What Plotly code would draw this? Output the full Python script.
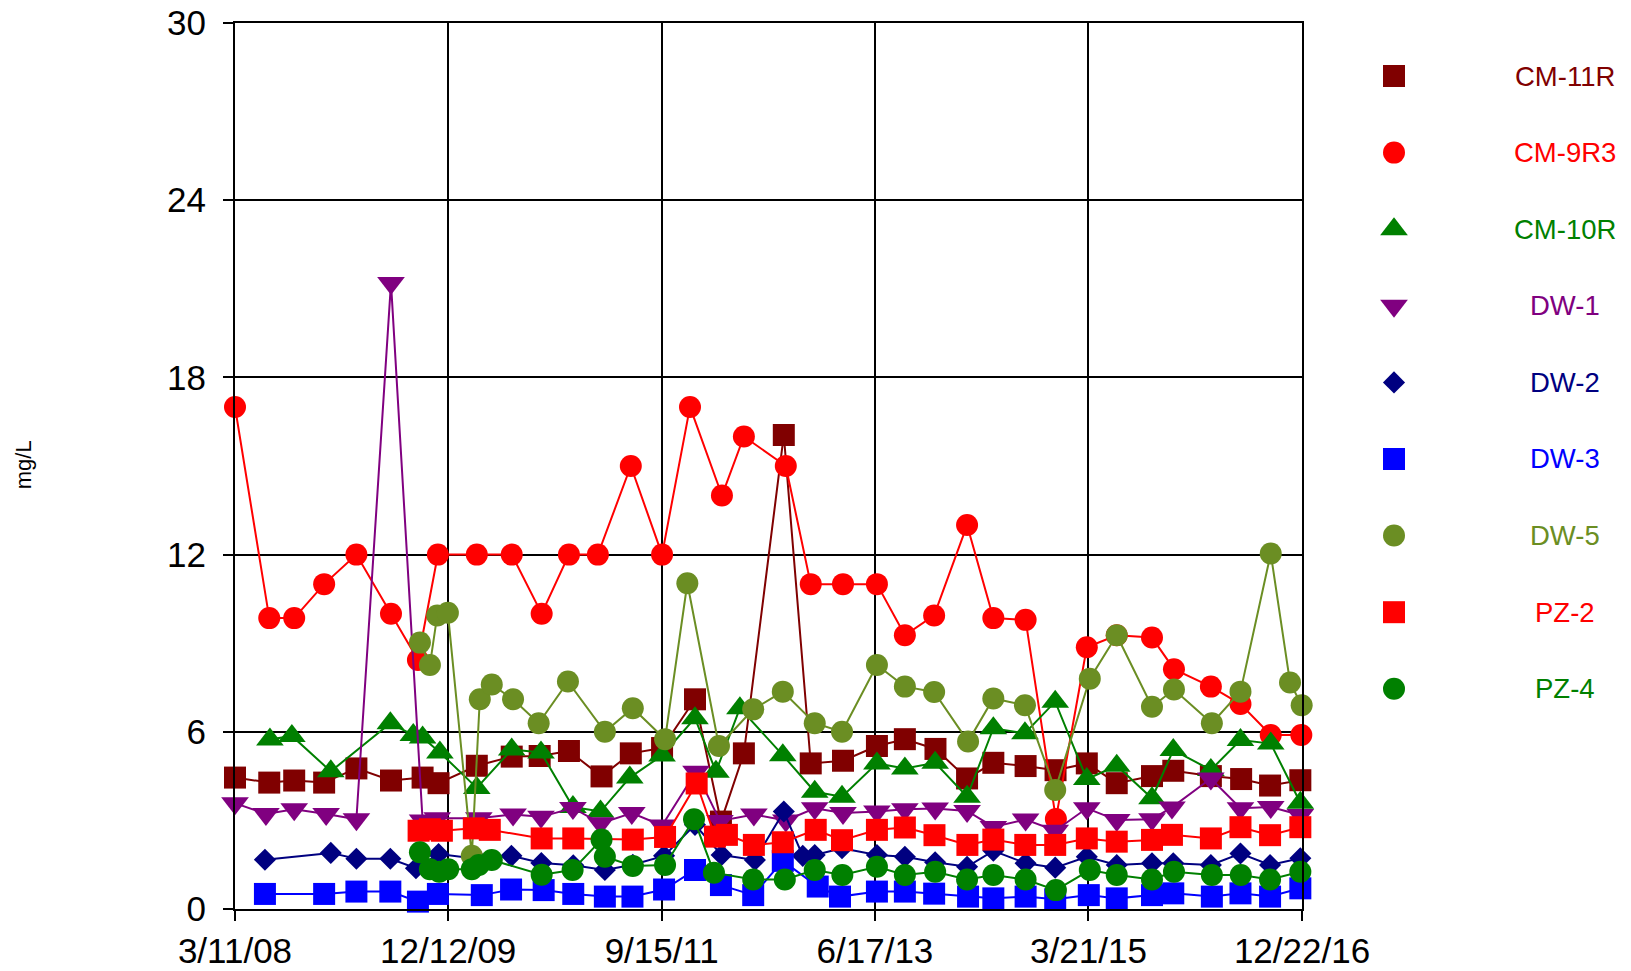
import plotly.graph_objects as go

# ---------------- data ----------------
cm11r_dates = ["2008-03-11","2008-06-22","2008-09-05","2008-12-04","2009-03-11","2009-06-23","2009-09-26","2009-11-13",
               "2010-03-08","2010-06-21","2010-09-13","2010-12-10","2011-03-18","2011-06-14","2011-09-16","2011-12-24",
               "2012-03-11","2012-05-19","2012-09-16","2012-12-06","2013-03-13","2013-06-23","2013-09-15","2013-12-16",
               "2014-03-21","2014-06-08","2014-09-13","2014-12-12","2015-03-16","2015-06-14","2015-09-28","2015-12-01",
               "2016-03-23","2016-06-22","2016-09-17","2016-12-17"]
cm11r_vals = [4.45,4.28,4.35,4.28,4.76,4.35,4.45,4.26,
              4.85,5.16,5.18,5.35,4.49,5.27,5.45,7.1,
              2.96,5.27,16.05,4.93,5.02,5.52,5.75,5.42,
              4.42,4.95,4.84,4.7,4.93,4.26,4.5,4.68,
              4.5,4.4,4.18,4.36]

cm9r3_dates = ["2008-03-11","2008-06-22","2008-09-05","2008-12-04","2009-03-11","2009-06-23","2009-09-12","2009-11-11",
               "2010-03-08","2010-06-21","2010-09-19","2010-12-10","2011-03-07","2011-06-14","2011-09-16","2011-12-09",
               "2012-03-14","2012-05-19","2012-09-22","2012-12-06","2013-03-13","2013-06-23","2013-09-15","2013-12-12",
               "2014-03-21","2014-06-08","2014-09-13","2014-12-13","2015-03-16","2015-06-14","2015-09-28","2015-12-03",
               "2016-03-23","2016-06-20","2016-09-19","2016-12-20"]
cm9r3_vals = [17.0,9.85,9.85,11.0,12.0,10.0,8.43,12.0,
              12.0,12.0,10.0,12.0,12.0,15.0,12.0,17.0,
              14.0,16.0,15.0,11.0,11.0,11.0,9.27,9.94,
              13.0,9.85,9.79,3.05,8.86,9.27,9.19,8.12,
              7.53,6.94,5.89,5.89]

cm10r_dates = ["2008-06-24","2008-08-29","2008-12-24","2009-06-21","2009-08-29","2009-09-26","2009-11-17",
               "2010-03-08","2010-06-21","2010-09-17","2010-12-22","2011-03-15","2011-06-11","2011-09-16","2011-12-24",
               "2012-02-25","2012-05-07","2012-09-13","2012-12-18","2013-03-10","2013-06-23","2013-09-15","2013-12-15",
               "2014-03-21","2014-06-08","2014-09-11","2014-12-11","2015-03-16","2015-06-14","2015-09-28","2015-12-01",
               "2016-03-23","2016-06-20","2016-09-19","2016-12-17"]
cm10r_vals = [5.74,5.86,4.66,6.29,5.89,5.81,5.3,
              4.1,5.4,5.3,3.45,3.3,4.45,5.2,6.46,
              4.65,6.8,5.21,3.97,3.8,4.93,4.76,4.95,
              3.8,6.12,5.95,7.02,4.4,4.85,3.75,5.38,
              4.71,5.72,5.6,3.6]

dw1_dates = ["2008-03-11","2008-06-12","2008-09-05","2008-12-10","2009-03-11","2009-06-23","2009-09-26","2009-11-09",
             "2010-03-14","2010-06-25","2010-09-17","2010-12-22","2011-03-15","2011-06-17","2011-09-16","2011-12-27",
             "2012-03-08","2012-06-18","2012-09-22","2012-12-18","2013-03-13","2013-06-23","2013-09-15","2013-12-15",
             "2014-03-21","2014-06-08","2014-09-13","2014-12-11","2015-03-16","2015-06-14","2015-09-28","2015-11-27",
             "2016-03-23","2016-06-20","2016-09-19","2016-12-17"]
dw1_vals = [3.58,3.22,3.38,3.22,3.04,21.2,3.0,3.07,
            3.07,3.2,3.12,3.42,2.9,3.25,2.83,4.65,
            2.98,3.2,3.0,3.41,3.25,3.3,3.38,3.4,
            3.32,2.78,3.03,2.65,3.41,3.01,3.04,3.44,
            4.42,3.41,3.45,3.18]

dw2_dates = ["2008-06-09","2008-12-24","2009-03-11","2009-06-21","2009-09-06","2009-11-13",
             "2010-03-08","2010-06-20","2010-09-18","2010-12-23","2011-03-28","2011-06-20","2011-09-22","2011-12-24",
             "2012-03-13","2012-06-21","2012-09-16","2012-11-12","2012-12-18","2013-03-10","2013-06-23","2013-09-15",
             "2013-12-15","2014-03-21","2014-06-08","2014-09-13","2014-12-11","2015-03-16","2015-06-14","2015-09-28",
             "2015-12-01","2016-03-23","2016-06-20","2016-09-17","2016-12-17"]
dw2_vals = [1.67,1.9,1.7,1.7,1.38,1.86,
            1.7,1.8,1.56,1.48,1.32,1.5,1.8,2.85,
            1.83,1.66,3.3,1.8,1.83,2.06,1.83,1.77,
            1.58,1.43,1.97,1.55,1.4,1.77,1.49,1.55,
            1.55,1.49,1.88,1.49,1.72]

dw3_dates = ["2008-06-09","2008-12-04","2009-03-11","2009-06-21","2009-09-12","2009-11-11",
             "2010-03-23","2010-06-19","2010-09-25","2010-12-23","2011-03-28","2011-06-19","2011-09-22","2011-12-24",
             "2012-03-11","2012-06-16","2012-09-13","2012-12-27","2013-03-04","2013-06-23","2013-09-15","2013-12-12",
             "2014-03-24","2014-06-08","2014-09-13","2014-12-11","2015-03-22","2015-06-14","2015-09-28","2015-12-01",
             "2016-03-26","2016-06-20","2016-09-17","2016-12-17"]
dw3_vals = [0.51,0.51,0.59,0.59,0.25,0.51,
            0.47,0.66,0.64,0.51,0.42,0.42,0.66,1.32,
            0.81,0.47,1.63,0.76,0.42,0.59,0.59,0.52,
            0.42,0.36,0.42,0.33,0.47,0.36,0.47,0.53,
            0.42,0.53,0.42,0.7]

dw5_dates = ["2009-09-18","2009-10-18","2009-11-09","2009-12-11","2010-02-21","2010-03-17","2010-04-22","2010-06-25",
             "2010-09-10","2010-12-07","2011-03-28","2011-06-20","2011-09-25","2011-12-01","2012-03-05","2012-06-16",
             "2012-09-13","2012-12-18","2013-03-10","2013-06-23","2013-09-15","2013-12-12","2014-03-24","2014-06-08",
             "2014-09-11","2014-12-11","2015-03-25","2015-06-14","2015-09-28","2015-12-03","2016-03-26","2016-06-20",
             "2016-09-19","2016-11-16","2016-12-21"]
dw5_vals = [9.02,8.26,9.94,10.03,1.8,7.1,7.6,7.1,
            6.29,7.7,6.0,6.8,5.75,11.03,5.52,6.76,
            7.36,6.29,6.0,8.26,7.53,7.35,5.67,7.13,
            6.9,4.03,7.8,9.27,6.85,7.43,6.29,7.36,
            12.04,7.67,6.9]

pz2_dates = ["2009-09-14","2009-10-18","2009-11-23","2010-02-27","2010-04-16","2010-09-19","2010-12-23",
             "2011-06-20","2011-09-25","2011-12-29","2012-02-22","2012-03-29","2012-06-18","2012-09-13","2012-12-21",
             "2013-03-10","2013-06-23","2013-09-15","2013-12-13","2014-03-22","2014-06-08","2014-09-12","2014-12-11",
             "2015-03-16","2015-06-14","2015-09-28","2015-11-27","2016-03-23","2016-06-20","2016-09-17","2016-12-17"]
pz2_vals = [2.65,2.7,2.65,2.73,2.68,2.39,2.39,
            2.35,2.44,4.25,2.45,2.51,2.17,2.26,2.68,
            2.33,2.68,2.76,2.5,2.17,2.35,2.17,2.17,
            2.39,2.28,2.34,2.51,2.39,2.77,2.5,2.77]

pz4_dates = ["2009-09-18","2009-10-18","2009-11-15","2009-12-12","2010-02-21","2010-03-14","2010-04-22",
             "2010-09-19","2010-12-21","2011-03-18","2011-03-28","2011-06-20","2011-09-25","2011-12-21",
             "2012-02-19","2012-06-16","2012-09-19","2012-12-18","2013-03-11","2013-06-23","2013-09-15","2013-12-15",
             "2014-03-21","2014-06-08","2014-09-13","2014-12-13","2015-03-25","2015-06-14","2015-09-28","2015-12-03",
             "2016-03-26","2016-06-21","2016-09-17","2016-12-17"]
pz4_vals = [1.92,1.35,1.26,1.35,1.35,1.49,1.66,
            1.16,1.32,2.35,1.77,1.46,1.49,3.04,
            1.23,1.0,1.0,1.32,1.15,1.43,1.15,1.26,
            1.0,1.15,1.0,0.64,1.32,1.15,1.0,1.26,
            1.15,1.15,1.0,1.26]

tick_dates = ["2008-03-11","2009-12-12","2011-09-15","2013-06-17","2015-03-21","2016-12-22"]
tick_labels = ["3/11/08","12/12/09","9/15/11","6/17/13","3/21/15","12/22/16"]
y_ticks = [0, 6, 12, 18, 24, 30]

series_names = ["CM-11R", "CM-9R3", "CM-10R", "DW-1", "DW-2", "DW-3", "DW-5", "PZ-2", "PZ-4"]
series_dates = [cm11r_dates, cm9r3_dates, cm10r_dates, dw1_dates, dw2_dates, dw3_dates, dw5_dates, pz2_dates, pz4_dates]
series_vals = [cm11r_vals, cm9r3_vals, cm10r_vals, dw1_vals, dw2_vals, dw3_vals, dw5_vals, pz2_vals, pz4_vals]

# ---------------- styles ----------------
colors = ["#800000", "#FF0000", "#008000", "#800080", "#000080", "#0000FF", "#6B8E23", "#FF0000", "#008000"]
symbols = ["square", "circle", "triangle-up", "triangle-down", "diamond", "square", "circle", "square", "circle"]
sizes = [22, 22, 24, 24, 17, 22, 22, 22, 22]

FONT = "Liberation Sans, Arial, sans-serif"
PLOT_FRAC = 1067 / 1376          # main plot width share of the paper area
LEG_SYMBOL_X = 0.2115            # legend column positions (xaxis2 units)
LEG_TEXT_X = 0.833

fig = go.Figure()
for name, xs, ys, col, sym, sz in zip(series_names, series_dates, series_vals, colors, symbols, sizes):
    fig.add_trace(go.Scatter(
        x=xs, y=ys, mode="lines+markers", name=name,
        line=dict(color=col, width=2),
        marker=dict(color=col, symbol=sym, size=sz, line=dict(width=0)),
        cliponaxis=False, showlegend=False,
    ))

# legend (drawn on an auxiliary axis pair on the right)
annotations = []
for i, (name, col, sym, sz) in enumerate(zip(series_names, colors, symbols, sizes)):
    fig.add_trace(go.Scatter(
        x=[LEG_SYMBOL_X], y=[i], mode="markers", name=name,
        marker=dict(color=col, symbol=sym, size=sz, line=dict(width=0)),
        xaxis="x2", yaxis="y2", showlegend=False, hoverinfo="skip", cliponaxis=False,
    ))
    annotations.append(dict(
        text=name, xref="x2", yref="y2", x=LEG_TEXT_X, y=i,
        xanchor="center", yanchor="middle", showarrow=False,
        font=dict(family=FONT, size=27.5, color=col),
    ))

annotations.append(dict(
    text="mg/L", textangle=-90, xref="paper", yref="paper",
    x=-0.154, y=0.501, xanchor="center", yanchor="middle",
    showarrow=False, font=dict(family=FONT, size=22, color="black"),
))

fig.update_layout(
    width=1631, height=971,
    margin=dict(l=235, r=20, t=23, b=62, autoexpand=False),
    paper_bgcolor="white", plot_bgcolor="white",
    font=dict(family=FONT, color="black"),
    showlegend=False,
    xaxis=dict(
        domain=[0, PLOT_FRAC], automargin=False,
        type="date", range=["2008-03-11", "2016-12-22"],
        tickmode="array", tickvals=tick_dates, ticktext=tick_labels,
        showgrid=True, gridcolor="black", gridwidth=2,
        showline=True, linecolor="black", linewidth=2, mirror=True,
        ticks="outside", ticklen=10, tickwidth=2, tickcolor="black",
        tickfont=dict(family=FONT, size=35, color="black"),
        ticklabeloverflow="allow",
        zeroline=False,
    ),
    yaxis=dict(
        range=[0, 30], tickmode="array", tickvals=y_ticks, automargin=False,
        showgrid=True, gridcolor="black", gridwidth=2,
        showline=True, linecolor="black", linewidth=2, mirror=True,
        ticks="outside", ticklen=10, tickwidth=2, tickcolor="black",
        tickfont=dict(family=FONT, size=35, color="black"),
        ticklabelstandoff=10, ticklabeloverflow="allow",
        zeroline=False,
    ),
    xaxis2=dict(domain=[0.8, 1.0], range=[0, 1], visible=False, anchor="y2",
                fixedrange=True, automargin=False),
    yaxis2=dict(domain=[0, 1], range=[10.875, -0.692], visible=False, anchor="x2",
                fixedrange=True, automargin=False),
    annotations=annotations,
)

# remove the browser's default 8px page margin so the figure fills the window exactly
fig.write_html("out.html",
               config={"displayModeBar": False},
               post_script="document.body.style.margin='0';document.body.style.overflow='hidden';")
